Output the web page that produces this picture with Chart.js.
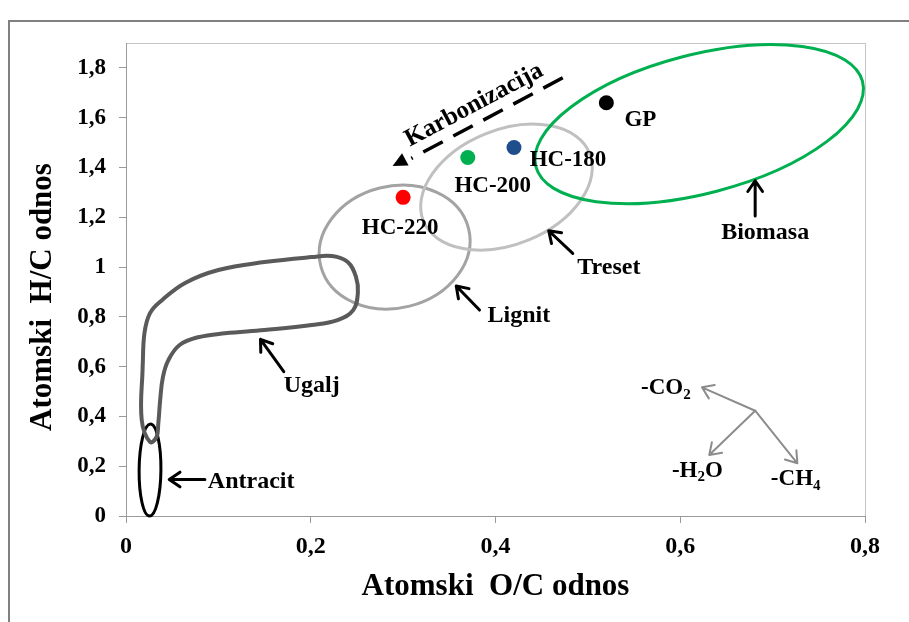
<!DOCTYPE html>
<html>
<head>
<meta charset="utf-8">
<script src="https://cdn.jsdelivr.net/npm/chart.js@4.4.1/dist/chart.umd.min.js"></script>
<style>
  html, body { margin: 0; padding: 0; background: #fff; }
  #wrap { width: 909px; height: 622px; }
</style>
</head>
<body>
<div id="wrap"><canvas id="vanKrevelen" width="909" height="622"></canvas></div>
<script>
// uzorci
const uzorci = ['HC-220', 'HC-200', 'HC-180', 'GP'];
const ocUzorci = [0.30, 0.37, 0.42, 0.52];
const hcUzorci = [1.28, 1.44, 1.48, 1.66];
const bojeUzoraka = ['#ff0000', '#00b050', '#1f4e8c', '#000000'];

// obris oblasti "Ugalj" (ocitano sa slike)
const ugaljOC = [0.018, 0.020, 0.026, 0.039, 0.064, 0.100, 0.150, 0.201, 0.223, 0.240, 0.249, 0.251, 0.246, 0.229,
                 0.201, 0.150, 0.107, 0.078, 0.058, 0.046, 0.040, 0.037, 0.035, 0.033, 0.026, 0.017, 0.018];
const ugaljHC = [0.598, 0.735, 0.815, 0.867, 0.936, 0.988, 1.020, 1.040, 1.044, 1.020, 0.960, 0.896, 0.827, 0.787,
                 0.767, 0.747, 0.734, 0.718, 0.687, 0.627, 0.559, 0.466, 0.373, 0.317, 0.297, 0.386, 0.598];

// elipse: centar, kraj velike poluose, kraj male poluose
const oblasti = ['Antracit', 'Lignit', 'Treset', 'Biomasa'];
const centarOC = [0.0260, 0.2908, 0.4119, 0.6205];
const centarHC = [0.1847, 1.0803, 1.3213, 1.5743];
const osaA_OC = [0.0265, 0.3708, 0.5018, 0.7973];
const osaA_HC = [0.3695, 1.1554, 1.4578, 1.7454];
const osaB_OC = [0.0378, 0.3070, 0.4352, 0.6395];
const osaB_HC = [0.1847, 0.8430, 1.1080, 1.3048];
const bojeOblasti = ['#000000', '#a3a3a3', '#c0c0c0', '#00b050'];

const xTicks = [0, 0.2, 0.4, 0.6, 0.8];
const xTickLabels = ['0', '0,2', '0,4', '0,6', '0,8'];
const yTicks = [0, 0.2, 0.4, 0.6, 0.8, 1.0, 1.2, 1.4, 1.6, 1.8];
const yTickLabels = ['0', '0,2', '0,4', '0,6', '0,8', '1', '1,2', '1,4', '1,6', '1,8'];

const SERIF = "'Liberation Serif', 'Times New Roman', serif";

// oznake oblasti: tekst + strelica (u O/C, H/C koordinatama)
const natpisi = [
    { text: 'Antracit', x: 0.0886, y: 0.1124, align: 'left', od: [0.0854, 0.1466], 'do': [0.0468, 0.1466] },
    { text: 'Ugalj', x: 0.1708, y: 0.4992, align: 'left', od: [0.1708, 0.5795], 'do': [0.1456, 0.7096] },
    { text: 'Lignit', x: 0.3914, y: 0.7791, align: 'left', od: [0.3827, 0.8273], 'do': [0.3575, 0.9237] },
    { text: 'Treset', x: 0.4886, y: 0.9719, align: 'left', od: [0.4836, 1.0550], 'do': [0.4576, 1.1458] },
    { text: 'Biomasa', x: 0.6919, y: 1.1112, align: 'center', od: [0.6811, 1.2048], 'do': [0.6811, 1.3466] }
];
// pomak natpisa uzoraka u pikselima
const pomakUzoraka = [[-3, 37], [25, 34], [54, 18], [34, 23]];

function strelica(ctx, x1, y1, x2, y2, boja, debljina, duzina) {
    ctx.save();
    ctx.strokeStyle = boja;
    ctx.lineWidth = debljina;
    ctx.lineCap = 'round';
    ctx.lineJoin = 'round';
    ctx.beginPath();
    ctx.moveTo(x1, y1);
    ctx.lineTo(x2, y2);
    const ugao = Math.atan2(y2 - y1, x2 - x1);
    ctx.moveTo(x2 - duzina * Math.cos(ugao - 0.6), y2 - duzina * Math.sin(ugao - 0.6));
    ctx.lineTo(x2, y2);
    ctx.lineTo(x2 - duzina * Math.cos(ugao + 0.6), y2 - duzina * Math.sin(ugao + 0.6));
    ctx.stroke();
    ctx.restore();
}

function tekstSaIndeksom(ctx, x, y, osnova, indeks, nastavak, vel) {
    ctx.font = 'bold ' + vel + 'px ' + SERIF;
    ctx.fillText(osnova, x, y);
    x += ctx.measureText(osnova).width;
    ctx.font = 'bold ' + Math.round(vel * 0.65) + 'px ' + SERIF;
    ctx.fillText(indeks, x, y + vel * 0.2);
    x += ctx.measureText(indeks).width;
    if (nastavak) {
        ctx.font = 'bold ' + vel + 'px ' + SERIF;
        ctx.fillText(nastavak, x, y);
    }
}

const crtezPlugin = {
    id: 'crtez',
    beforeDraw(chart) {
        const { ctx, chartArea: a } = chart;
        ctx.save();
        // spoljasnji okvir
        ctx.strokeStyle = '#808080';
        ctx.lineWidth = 2;
        ctx.strokeRect(9, 21, 1000, 1000);
        // okvir oblasti grafika
        ctx.strokeStyle = '#c4c4c4';
        ctx.lineWidth = 1;
        ctx.strokeRect(a.left + 0.5, a.top + 0.5, a.right - a.left, a.bottom - a.top);
        // naslov y ose
        ctx.translate(43, 297);
        ctx.rotate(-Math.PI / 2);
        ctx.fillStyle = '#000';
        ctx.textAlign = 'center';
        ctx.textBaseline = 'middle';
        ctx.font = 'bold 31px ' + SERIF;
        ctx.fillText('Atomski  H/C odnos', 0, 0);
        ctx.restore();
    },
    beforeDatasetsDraw(chart) {
        const { ctx, scales: { x, y } } = chart;
        ctx.save();
        oblasti.forEach((ime, i) => {
            const cx = x.getPixelForValue(centarOC[i]), cy = y.getPixelForValue(centarHC[i]);
            const ax = x.getPixelForValue(osaA_OC[i]) - cx, ay = y.getPixelForValue(osaA_HC[i]) - cy;
            const bx = x.getPixelForValue(osaB_OC[i]) - cx, by = y.getPixelForValue(osaB_HC[i]) - cy;
            ctx.beginPath();
            ctx.ellipse(cx, cy, Math.hypot(ax, ay), Math.hypot(bx, by), Math.atan2(ay, ax), 0, Math.PI * 2);
            ctx.strokeStyle = bojeOblasti[i];
            ctx.lineWidth = 3;
            ctx.stroke();
        });
        ctx.restore();
    },
    afterDatasetsDraw(chart) {
        const { ctx, scales: { x, y } } = chart;
        const px = v => x.getPixelForValue(v), py = v => y.getPixelForValue(v);
        ctx.save();
        ctx.fillStyle = '#000';
        ctx.textBaseline = 'alphabetic';

        // natpisi uzoraka
        ctx.font = 'bold 23px ' + SERIF;
        ctx.textAlign = 'center';
        uzorci.forEach((ime, i) => {
            ctx.fillText(ime, px(ocUzorci[i]) + pomakUzoraka[i][0], py(hcUzorci[i]) + pomakUzoraka[i][1]);
        });

        // oblasti
        natpisi.forEach(n => {
            strelica(ctx, px(n.od[0]), py(n.od[1]), px(n['do'][0]), py(n['do'][1]), '#000', 3, 13);
            ctx.textAlign = n.align;
            ctx.font = 'bold 24px ' + SERIF;
            ctx.fillText(n.text, px(n.x), py(n.y));
        });

        // karbonizacija
        const k1x = px(0.4728), k1y = py(1.7602), k2x = px(0.3089), k2y = py(1.4365);
        ctx.save();
        ctx.strokeStyle = '#000';
        ctx.lineWidth = 3.5;
        ctx.setLineDash([22, 12]);
        ctx.beginPath();
        ctx.moveTo(k1x, k1y);
        ctx.lineTo(k2x, k2y);
        ctx.stroke();
        ctx.setLineDash([]);
        const ug = Math.atan2(k2y - k1y, k2x - k1x);
        const tx = px(0.2886), ty = py(1.4056);
        ctx.beginPath();
        ctx.moveTo(tx, ty);
        ctx.lineTo(tx - 16 * Math.cos(ug - 0.45), ty - 16 * Math.sin(ug - 0.45));
        ctx.lineTo(tx - 16 * Math.cos(ug + 0.45), ty - 16 * Math.sin(ug + 0.45));
        ctx.closePath();
        ctx.fill();
        ctx.translate(px(0.3791), py(1.6345));
        ctx.rotate(ug - Math.PI);
        ctx.textAlign = 'center';
        ctx.textBaseline = 'alphabetic';
        ctx.font = 'bold 25px ' + SERIF;
        ctx.fillText('Karbonizacija', 0, 2);
        ctx.restore();

        // reakcije
        const ox = px(0.6811), oy = py(0.4229);
        strelica(ctx, ox, oy, px(0.6235), py(0.5169), '#8c8c8c', 2, 13);
        strelica(ctx, ox, oy, px(0.6314), py(0.2450), '#8c8c8c', 2, 13);
        strelica(ctx, ox, oy, px(0.7268), py(0.2116), '#8c8c8c', 2, 13);
        ctx.textAlign = 'left';
        ctx.textBaseline = 'alphabetic';
        tekstSaIndeksom(ctx, px(0.5575), py(0.4888), '-CO', '2', '', 23);
        tekstSaIndeksom(ctx, px(0.5910), py(0.1578), '-H', '2', 'O', 23);
        tekstSaIndeksom(ctx, px(0.6981), py(0.1245), '-CH', '4', '', 23);
        ctx.restore();
    }
};

const ctx = document.getElementById('vanKrevelen').getContext('2d');
new Chart(ctx, {
    type: 'scatter',
    data: {
        datasets: [{
            label: 'Ugalj',
            data: ugaljOC.map((v, i) => ({ x: v, y: ugaljHC[i] })),
            showLine: true,
            borderColor: '#5a5a5a',
            borderWidth: 4,
            pointRadius: 0,
            tension: 0.4,
            fill: false
        }, {
            label: 'Uzorci',
            data: ocUzorci.map((v, i) => ({ x: v, y: hcUzorci[i] })),
            backgroundColor: bojeUzoraka,
            borderColor: bojeUzoraka,
            pointRadius: 7.5,
            pointBorderWidth: 0
        }]
    },
    options: {
        responsive: false,
        animation: false,
        layout: { padding: { left: 0, top: 43, right: 44, bottom: 0 } },
        plugins: {
            legend: { display: false },
            tooltip: { enabled: false }
        },
        scales: {
            x: {
                type: 'linear',
                min: 0,
                max: 0.8,
                afterBuildTicks: s => { s.ticks = xTicks.map(v => ({ value: v })); },
                afterFit: s => { s.height = 106; },
                grid: { drawOnChartArea: false, tickLength: 7, color: '#9a9a9a' },
                border: { color: '#9a9a9a' },
                ticks: {
                    callback: (v, i) => xTickLabels[i],
                    font: { family: SERIF, size: 24, weight: 'bold' },
                    color: '#000',
                    padding: 9,
                    maxRotation: 0
                },
                title: {
                    display: true,
                    text: 'Atomski  O/C odnos',
                    font: { family: SERIF, size: 31, weight: 'bold' },
                    color: '#000',
                    padding: { top: 0, bottom: 16 }
                }
            },
            y: {
                type: 'linear',
                min: 0,
                max: 1.9,
                afterBuildTicks: s => { s.ticks = yTicks.map(v => ({ value: v })); },
                afterFit: s => { s.width = 126; },
                grid: { drawOnChartArea: false, tickLength: 7, color: '#9a9a9a' },
                border: { color: '#9a9a9a' },
                ticks: {
                    callback: (v, i) => yTickLabels[i],
                    font: { family: SERIF, size: 23, weight: 'bold' },
                    color: '#000',
                    padding: 13
                },
                title: { display: false }
            }
        }
    },
    plugins: [crtezPlugin]
});
</script>
</body>
</html>
